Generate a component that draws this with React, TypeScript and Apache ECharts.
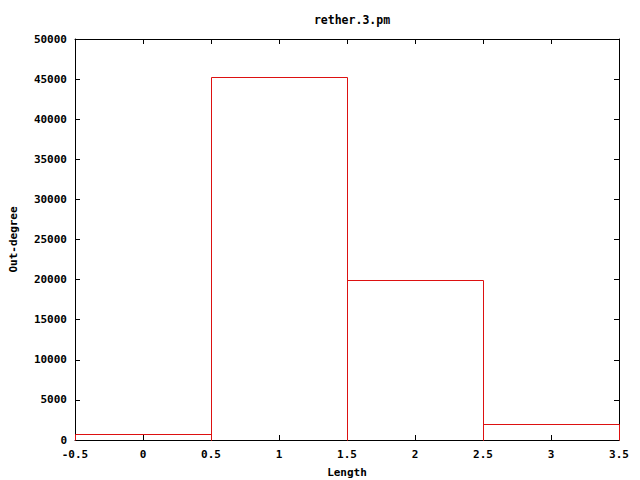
import React, { useEffect, useRef } from "react";
import * as echarts from "echarts";

const lengths = [0, 1, 2, 3];
const outDegree = [750, 45300, 20000, 2000];
const titleText = "rether.3.pm";
const xName = "Length";
const yName = "Out-degree";

const FONT = "'DejaVu Sans Mono', 'Liberation Mono', monospace";
const RED = "#dd1111";

export default function App() {
  const ref = useRef<HTMLDivElement>(null);
  useEffect(() => {
    document.body.style.margin = "0";
    const chart = echarts.init(ref.current!, null, { renderer: "svg" });
    const axisCommon = {
      axisLine: { show: true, onZero: false, lineStyle: { color: "#000", width: 1 } },
      axisTick: { show: true, inside: true, length: 5, lineStyle: { color: "#000" } },
      splitLine: { show: false },
    };
    const labelStyle = { fontFamily: FONT, fontSize: 11, fontWeight: "bold" as const, color: "#000" };
    chart.setOption({
      animation: false,
      backgroundColor: "#fff",
      title: {
        text: titleText,
        left: 347,
        top: 9,
        textAlign: "center",
        textStyle: { ...labelStyle, fontSize: 11.5 },
      },
      grid: { left: 75, right: 21, top: 39, bottom: 40, containLabel: false, outerBoundsMode: "none" },
      xAxis: [
        {
          type: "value",
          min: -0.5,
          max: 3.5,
          interval: 0.5,
          position: "bottom",
          name: xName,
          nameLocation: "middle",
          nameGap: 27,
          nameTextStyle: { ...labelStyle },
          ...axisCommon,
          axisLabel: { ...labelStyle, margin: 9, formatter: (v: number) => String(v) },
        },
        {
          type: "value",
          min: -0.5,
          max: 3.5,
          interval: 0.5,
          position: "top",
          ...axisCommon,
          axisLabel: { show: false },
        },
      ],
      yAxis: [
        {
          type: "value",
          min: 0,
          max: 50000,
          interval: 5000,
          position: "left",
          name: yName,
          nameLocation: "middle",
          nameGap: 56,
          nameRotate: 90,
          nameTextStyle: { ...labelStyle },
          ...axisCommon,
          axisLabel: { ...labelStyle, margin: 8, formatter: (v: number) => String(v) },
        },
        {
          type: "value",
          min: 0,
          max: 50000,
          interval: 5000,
          position: "right",
          ...axisCommon,
          axisLabel: { show: false },
        },
      ],
      series: [
        {
          type: "custom",
          xAxisIndex: 0,
          yAxisIndex: 0,
          z: 10,
          clip: false,
          itemStyle: { color: RED },
          data: lengths.map((x, i) => [x, outDegree[i]]),
          renderItem: (params: any, api: any) => {
            const x = api.value(0);
            const v = api.value(1);
            const p0 = api.coord([x - 0.5, v]);
            const p1 = api.coord([x + 0.5, 0]);
            const l = Math.round(p0[0]) + 0.5;
            const r = Math.round(p1[0]) + 0.5;
            const t = Math.round(p0[1]) + 0.5;
            const b = Math.round(p1[1]) + 0.5;
            return {
              type: "polyline",
              shape: { points: [[l, b], [l, t], [r, t], [r, b]] },
              style: { fill: null, stroke: RED, lineWidth: 1 },
            };
          },
        },
      ],
    });
    return () => chart.dispose();
  }, []);
  return <div ref={ref} style={{ width: 640, height: 480 }} />;
}
